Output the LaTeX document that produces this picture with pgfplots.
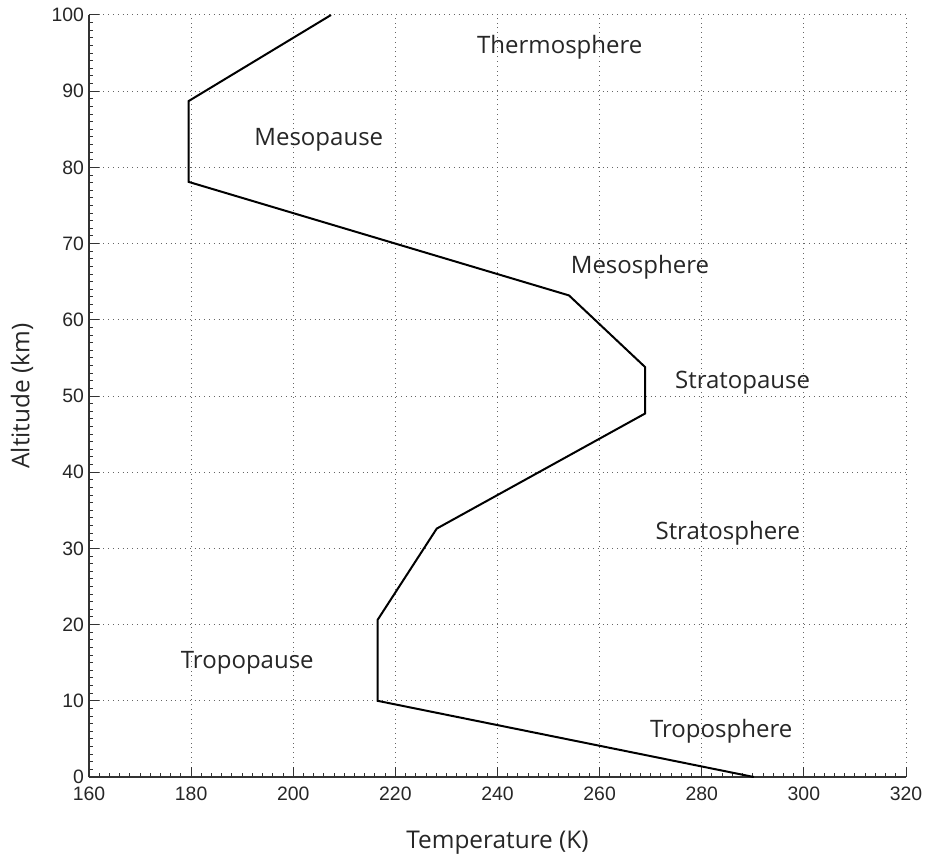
\documentclass[border=0pt]{standalone}
\usepackage{pgfplots}
\pgfplotsset{compat=1.18}
\usepackage{fontspec}
\setmainfont{Open Sans}
\newfontfamily\tickfont{Liberation Sans}
\begin{document}
\begin{tikzpicture}
\begin{axis}[
  scale only axis,
  width=408.5pt, height=381pt,
  xmin=160, xmax=320, ymin=0, ymax=100,
  xtick={160,180,...,320}, ytick={0,10,...,100},
  minor x tick num=9, minor y tick num=9,
  axis x line*=bottom, axis y line*=left,
  axis line style={black!80, line width=0.6pt},
  major tick length=5pt, minor tick length=2pt,
  every tick/.style={black!80, line width=0.5pt},
  grid=major,
  major grid style={black!60, dotted, line width=0.5pt},
  tick label style={font=\tickfont\fontsize{9.7}{11}\selectfont, text=black!85},
  /pgf/number format/assume math mode=true,
  xticklabel style={yshift=-1.5pt},
  yticklabel style={xshift=1pt},
  xlabel={Temperature (K)}, ylabel={Altitude (km)},
  every axis x label/.style={at={(axis description cs:0.5,0)}, yshift=-33pt, anchor=center, font=\fontsize{12.2}{14}\selectfont, text=black!85},
  every axis y label/.style={at={(axis description cs:0,0.5)}, xshift=-33.5pt, anchor=center, rotate=90, font=\fontsize{12.2}{14}\selectfont, text=black!85},
  clip=false,
]
\addplot[black, line width=1pt] coordinates {
  (290.2,0) (216.5,10) (216.5,20.6) (228.1,32.6) (268.9,47.7) (268.9,53.8)
  (254.0,63.2) (179.5,78.1) (179.5,88.7) (207.4,100)
};
\begin{scope}[every node/.style={font=\fontsize{12}{14}\selectfont, text=black!85}]
\node at (axis cs:252.2,95.8) {Thermosphere};
\node at (axis cs:205,83.6) {Mesopause};
\node at (axis cs:267.9,66.9) {Mesosphere};
\node at (axis cs:288,51.8) {Stratopause};
\node at (axis cs:285.1,32) {Stratosphere};
\node at (axis cs:191,15) {Tropopause};
\node at (axis cs:283.8,6) {Troposphere};
\end{scope}
\end{axis}
\pgfresetboundingbox
\path (current axis.south west) ++(-44.5pt,-43pt) rectangle ++(462.5pt,431.5pt);
\end{tikzpicture}
\end{document}
